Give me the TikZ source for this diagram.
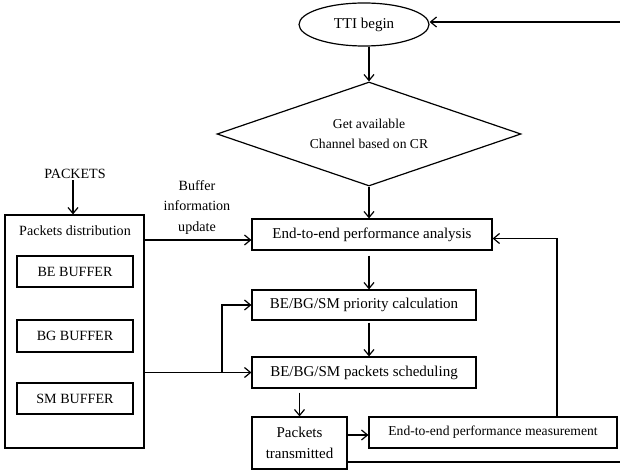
\documentclass[tikz,border=0pt]{standalone}
\usepackage{fontspec}
\setmainfont{Liberation Serif}
\usetikzlibrary{shapes.geometric,arrows.meta,calc}
\begin{document}
\begin{tikzpicture}[x=1pt,y=-1pt,
  line width=1.2pt,
  arr/.style={-{Straight Barb[length=6pt,width=10pt,line width=1.2pt]}},
  boxf/.style={draw,rectangle,inner sep=0pt,align=center},
  big/.style={font=\fontsize{15}{20.5}\selectfont},
  mid/.style={font=\fontsize{14.1}{20.5}\selectfont},
  sml/.style={font=\fontsize{13.6}{20}\selectfont}]
\useasboundingbox (0,0) rectangle (620,470);
% nodes
\node[draw,ellipse,inner sep=0pt,minimum width=130pt,minimum height=43pt,big] (tti) at (364,24.5) {TTI begin};
\node[draw,diamond,aspect=3,inner sep=0pt,minimum width=304pt,minimum height=104pt,align=center,sml] (dia) at (369,134) {Get available\\Channel based on CR};
\node[boxf,big,minimum width=240pt,minimum height=31pt] (perf) at (372,234.5) {End-to-end performance analysis};
\node[boxf,big,minimum width=224pt,minimum height=30pt] (prio) at (364,305) {BE/BG/SM priority calculation};
\node[boxf,big,minimum width=224pt,minimum height=31pt] (sched) at (364,372.5) {BE/BG/SM packets scheduling};
\node[boxf,big,minimum width=95pt,minimum height=52pt] (ptx) at (299.5,443) {Packets\\transmitted};
\node[boxf,sml,minimum width=248pt,minimum height=31pt] (meas) at (493,432.5) {End-to-end performance measurement};
\node[boxf,minimum width=139pt,minimum height=233pt] (buf) at (74.5,331.5) {};
\node[mid,inner sep=0pt] (pdist) at (75,231) {Packets distribution};
\node[boxf,mid,minimum width=116pt,minimum height=31pt] (be) at (75,271.5) {BE BUFFER};
\node[boxf,mid,minimum width=116pt,minimum height=32pt] (bg) at (75,336) {BG BUFFER};
\node[boxf,mid,minimum width=116pt,minimum height=31pt] (sm) at (75,398.5) {SM BUFFER};
\node[mid,inner sep=1pt] (pk) at (75,174) {PACKETS};
\node[mid,align=center,inner sep=0pt] (bupd) at (197,207.5) {Buffer\\information\\update};
% coordinates
\coordinate (rtop) at (620,22);
\coordinate (rbot) at (620,462);
\coordinate (fbx) at (557,0);
\coordinate (br) at (222,0);
\coordinate (fb) at ([yshift=-4pt]perf.east);
\coordinate (pw) at ([yshift=-5.5pt]perf.west);
\coordinate (mw) at ([yshift=-2.5pt]meas.west);
% connectors
\draw[arr] (rtop) -- (rtop -| tti.east);
\draw[arr] (dia.north |- tti.south) -- (dia.north);
\draw[arr] (dia.south) -- (dia.south |- perf.north);
\draw[arr,shorten <=5pt] (dia.south |- perf.south) -- (dia.south |- prio.north);
\draw[arr,shorten <=2pt] (dia.south |- prio.south) -- (dia.south |- sched.north);
\draw[arr,shorten <=4pt] (ptx.north |- sched.south) -- (ptx.north);
\draw[arr] (ptx.east |- mw) -- (mw);
\draw[arr] (meas.north -| fbx) |- (fb);
\draw (ptx.east |- rbot) -- (rbot);
\draw[arr] (pk.south -| 73,0) -- (buf.north -| 73,0);
\draw[arr] (buf.east |- pw) -- (pw);
\draw[arr] (buf.east |- sched.west) -- (sched.west);
\draw[arr] (br |- sched.west) |- (prio.west);
\end{tikzpicture}
\end{document}
